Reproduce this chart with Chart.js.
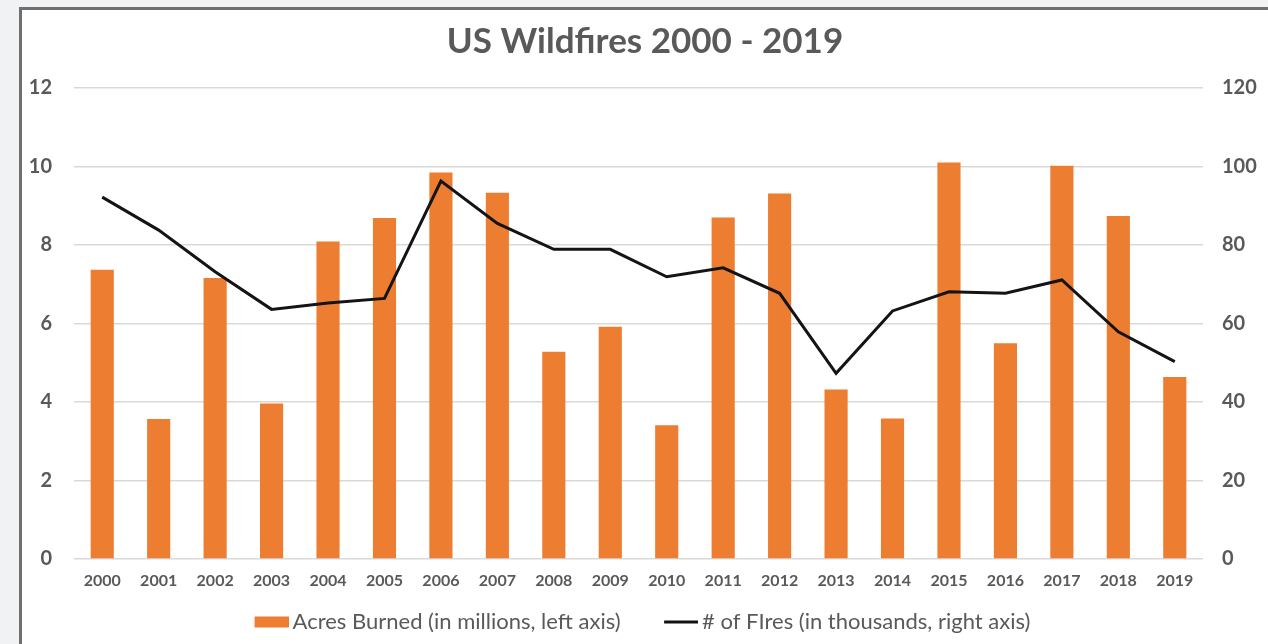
<!DOCTYPE html>
<html>
<head>
<meta charset="utf-8">
<script src="https://cdn.jsdelivr.net/npm/chart.js@4/dist/chart.umd.min.js"></script>
<style>
  html, body { margin: 0; padding: 0; }
  body { width: 1268px; height: 644px; background: #f1f2f4; overflow: hidden; position: relative; }
  #frame {
    position: absolute; left: 19px; top: 7px;
    width: 1246px; height: 634px;
    border-left: 3px solid #6f6f6f; border-top: 3px solid #6f6f6f;
    background: #fff;
  }
  canvas { display: block; }
</style>
</head>
<body>
<div id="frame"><canvas id="chart" width="1246" height="634"></canvas></div>
<script>
// values
const years = ['2000', '2001', '2002', '2003', '2004', '2005', '2006', '2007', '2008', '2009',
               '2010', '2011', '2012', '2013', '2014', '2015', '2016', '2017', '2018', '2019'];
const acresBurned = [7.37, 3.57, 7.16, 3.96, 8.09, 8.69, 9.85, 9.33, 5.28, 5.92,
                     3.41, 8.70, 9.31, 4.32, 3.58, 10.10, 5.50, 10.02, 8.74, 4.64]; // millions
const fires = [92.2, 83.8, 73.2, 63.6, 65.2, 66.4, 96.3, 85.5, 78.9, 78.9,
               71.9, 74.2, 67.7, 47.3, 63.2, 68.1, 67.7, 71.1, 57.9, 50.3]; // thousands
const leftTicks = { min: 0, max: 12, step: 2 };
const rightTicks = { min: 0, max: 120, step: 20 };

const textGray = '#595959';
const orange = '#ED7D31';

// little legend swatches (transparent on the left, colour in the right 34px)
function swatch(color, h) {
  const c = document.createElement('canvas');
  c.width = 36; c.height = 12;
  const g = c.getContext('2d');
  g.fillStyle = color;
  g.fillRect(2, (12 - h) / 2, 34, h);
  return c;
}
const barSwatch = swatch(orange, 11);
const lineSwatch = swatch('#111', 3);

const ctx = document.getElementById('chart').getContext('2d');
new Chart(ctx, {
  data: {
    labels: years,
    datasets: [
      {
        type: 'line',
        label: '# of FIres (in thousands, right axis)',
        data: fires,
        yAxisID: 'y1',
        borderColor: '#141414',
        borderWidth: 3,
        pointRadius: 0,
        tension: 0,
        order: 0
      },
      {
        type: 'bar',
        label: 'Acres Burned (in millions, left axis)',
        data: acresBurned,
        yAxisID: 'y',
        backgroundColor: orange,
        categoryPercentage: 1,
        barPercentage: 0.41,
        order: 1
      }
    ]
  },
  options: {
    responsive: false,
    animation: false,
    layout: { padding: { left: 0, right: 0, top: 0, bottom: 1 } },
    plugins: {
      title: {
        display: true,
        text: 'US Wildfires 2000 - 2019',
        color: textGray,
        font: { family: 'Lato', size: 35, weight: 'bold' },
        padding: { top: 11, bottom: 25 }
      },
      legend: {
        position: 'bottom',
        reverse: true,
        labels: {
          usePointStyle: true,
          pointStyleWidth: 22,
          padding: 10,
          color: textGray,
          font: { family: 'Lato', size: 22 },
          generateLabels: (chart) => {
            const items = Chart.defaults.plugins.legend.labels.generateLabels(chart);
            items.forEach(it => {
              if (it.datasetIndex === 1) {
                it.pointStyle = barSwatch;
                it.text = it.text + '\u2003\u2003\u2005';
              } else {
                it.pointStyle = lineSwatch;
              }
            });
            return items;
          }
        }
      },
      tooltip: { enabled: false }
    },
    scales: {
      x: {
        offset: true,
        grid: { display: false, drawTicks: false },
        border: { display: false },
        ticks: {
          color: textGray,
          padding: 12,
          font: { family: 'Lato', size: 16, weight: 'bold' }
        },
        afterFit: (s) => { s.height = 42; }
      },
      y: {
        position: 'left',
        min: leftTicks.min,
        max: leftTicks.max,
        ticks: {
          stepSize: leftTicks.step,
          color: textGray,
          padding: 22,
          font: { family: 'Lato', size: 20, weight: 'bold' }
        },
        grid: { color: '#d9d9d9', lineWidth: 1.5, drawTicks: false },
        border: { display: false },
        afterFit: (s) => { s.width = 52; }
      },
      y1: {
        position: 'right',
        min: rightTicks.min,
        max: rightTicks.max,
        ticks: {
          stepSize: rightTicks.step,
          color: textGray,
          padding: 19,
          font: { family: 'Lato', size: 20, weight: 'bold' }
        },
        grid: { display: false, drawTicks: false },
        border: { display: false },
        afterFit: (s) => { s.width = 65; }
      }
    }
  }
});
</script>
</body>
</html>
